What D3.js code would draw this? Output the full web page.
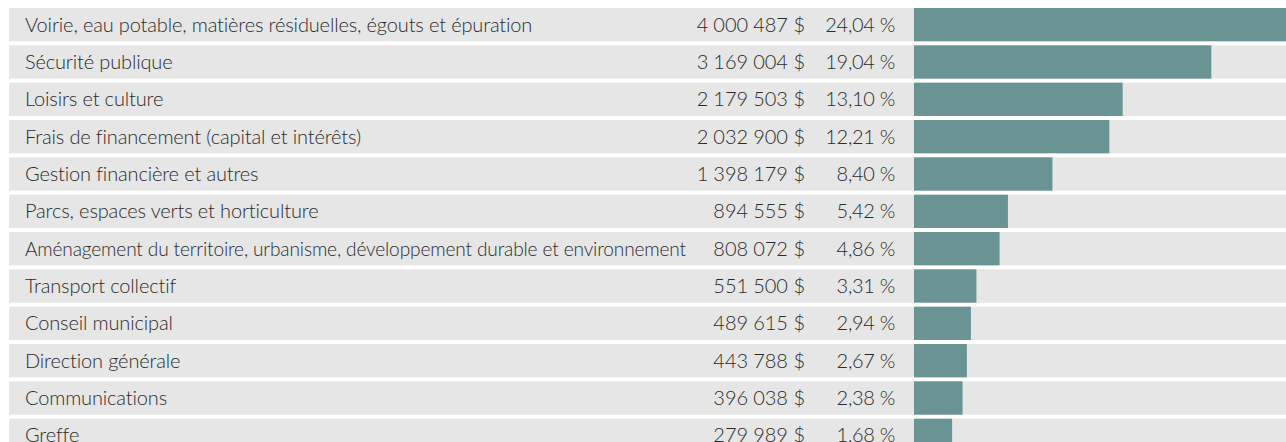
<!DOCTYPE html>
<html><head><meta charset="utf-8">
<script src="https://cdn.jsdelivr.net/npm/d3@7"></script>
<style>
html,body{margin:0;padding:0;background:#fff;}
svg{display:block;}
text{font-family:Lato,"Open Sans",sans-serif;fill:#2b2b2b;font-weight:300;}
</style></head>
<body>
<svg id="chart" width="1286" height="442"></svg>
<script>
const categories = [
  "Voirie, eau potable, matières résiduelles, égouts et épuration",
  "Sécurité publique",
  "Loisirs et culture",
  "Frais de financement (capital et intérêts)",
  "Gestion financière et autres",
  "Parcs, espaces verts et horticulture",
  "Aménagement du territoire, urbanisme, développement durable et environnement",
  "Transport collectif",
  "Conseil municipal",
  "Direction générale",
  "Communications",
  "Greffe"
];
const amounts = [4000487, 3169004, 2179503, 2032900, 1398179, 894555, 808072, 551500, 489615, 443788, 396038, 279989];
const percents = [24.04, 19.04, 13.10, 12.21, 8.40, 5.42, 4.86, 3.31, 2.94, 2.67, 2.38, 1.68];

const W = 1286, H = 442;
const svg = d3.select("#chart");
const locale = d3.formatLocale({decimal: ",", thousands: "\u202f", grouping: [3], currency: ["", "\u00a0$"]});
const fmtAmt = locale.format(",.0f");
const fmtPct = locale.format(".2f");

const y = d3.scaleBand().domain(categories).range([8, 8 + 37 * categories.length]).paddingInner(4 / 37).paddingOuter(0).align(0);
const barX0 = 914;
const x = d3.scaleLinear().domain([0, d3.max(percents)]).range([13, W - barX0]);

const rows = svg.selectAll("g.row").data(categories.map((c, i) => ({c, a: amounts[i], p: percents[i]})))
  .join("g").attr("class", "row").attr("transform", d => `translate(0,${y(d.c)})`);

const bh = y.bandwidth();
rows.append("rect").attr("x", 9).attr("y", 0).attr("width", W - 9).attr("height", bh).attr("fill", "#e6e6e6");
rows.append("rect").attr("x", barX0).attr("y", 0).attr("width", d => x(d.p)).attr("height", bh).attr("fill", "#6a9394");

const base = bh / 2 + 7;
const maxLabel = 661;
rows.append("text").attr("x", 25).attr("y", base).attr("font-size", 20).style("letter-spacing", "-0.15px")
  .text(d => d.c)
  .each(function () {
    if (this.getComputedTextLength() > maxLabel) {
      d3.select(this).attr("textLength", maxLabel).attr("lengthAdjust", "spacingAndGlyphs");
    }
  });
rows.append("text").attr("x", 805).attr("y", base).attr("font-size", 20).style("letter-spacing", "-0.4px").attr("text-anchor", "end").text(d => fmtAmt(d.a) + "\u00a0$");
rows.append("text").attr("x", 895).attr("y", base).attr("font-size", 20).style("letter-spacing", "-0.3px").attr("text-anchor", "end").text(d => fmtPct(d.p) + "\u00a0%");
</script>
</body></html>
